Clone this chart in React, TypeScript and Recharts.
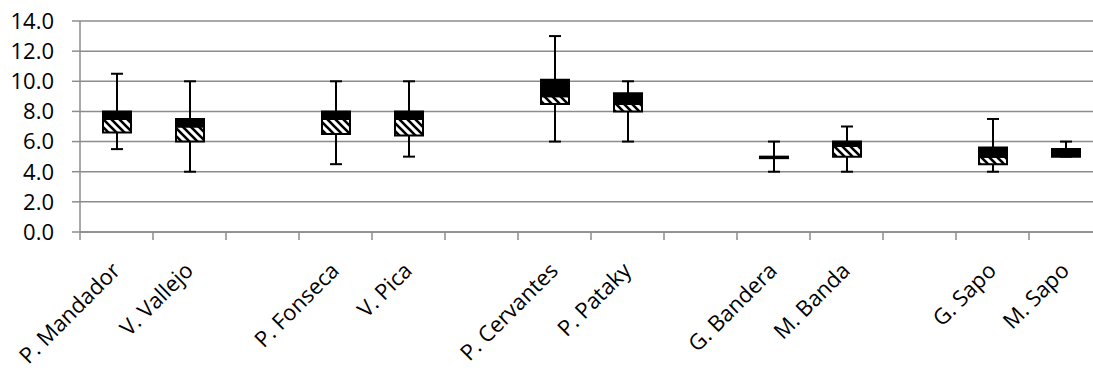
import React from "react";
import { BarChart, Bar, XAxis, YAxis, CartesianGrid } from "recharts";

// Box-plot statistics per site; empty names are spacer slots between groups.
const categories = [
  "P. Mandador", "V. Vallejo", "", "P. Fonseca", "V. Pica", "",
  "P. Cervantes", "P. Pataky", "", "G. Bandera", "M. Banda", "",
  "G. Sapo", "M. Sapo",
];
const minValues = [5.5, 4.0, null, 4.5, 5.0, null, 6.0, 6.0, null, 4.0, 4.0, null, 4.0, 5.0];
const q1Values = [6.6, 6.0, null, 6.5, 6.4, null, 8.5, 8.0, null, 4.9, 5.0, null, 4.5, 5.0];
const medianValues = [7.5, 7.0, null, 7.5, 7.5, null, 9.0, 8.5, null, 4.9, 5.7, null, 5.0, 5.0];
const q3Values = [8.0, 7.5, null, 8.0, 8.0, null, 10.1, 9.2, null, 5.0, 6.0, null, 5.6, 5.5];
const maxValues = [10.5, 10.0, null, 10.0, 10.0, null, 13.0, 10.0, null, 6.0, 7.0, null, 7.5, 6.0];
const yTicks = [0, 2, 4, 6, 8, 10, 12, 14];

const rows = categories.map((name, i) => {
  const mn = minValues[i];
  if (mn == null) return { name };
  const q1 = q1Values[i] as number;
  const med = medianValues[i] as number;
  const q3 = q3Values[i] as number;
  const mx = maxValues[i] as number;
  return {
    name,
    base: mn,
    lowWhisker: q1 - mn,
    lowBox: med - q1,
    highBox: q3 - med,
    highWhisker: mx - q3,
  };
});

const GRID = "#8c8c8c";
const FONT = "'Open Sans', sans-serif";

const hasValue = (p: any, key: string) =>
  p && p.payload && typeof p.payload[key] === "number" && p.x != null && p.y != null;

const LowWhisker = (p: any) => {
  if (!hasValue(p, "lowWhisker")) return <g />;
  const cx = p.x + p.width / 2;
  const bottom = p.y + p.height;
  return (
    <g>
      <line x1={cx} x2={cx} y1={p.y} y2={bottom} stroke="#000" strokeWidth={2} />
      <line x1={cx - 6} x2={cx + 6} y1={bottom} y2={bottom} stroke="#000" strokeWidth={2} />
    </g>
  );
};

const HighWhisker = (p: any) => {
  if (!hasValue(p, "highWhisker")) return <g />;
  const cx = p.x + p.width / 2;
  return (
    <g>
      <line x1={cx} x2={cx} y1={p.y} y2={p.y + p.height} stroke="#000" strokeWidth={2} />
      <line x1={cx - 6} x2={cx + 6} y1={p.y} y2={p.y} stroke="#000" strokeWidth={2} />
    </g>
  );
};

// Category label turned 45° up-right, with a tick mark on the left boundary of each band.
const CategoryTick = (p: any) => {
  const { x, y, payload } = p;
  const half =
    payload && typeof payload.offset === "number" && payload.offset > 0
      ? payload.offset
      : p.width / (2 * (p.visibleTicksCount || categories.length));
  const ax = x + 5;
  const ay = y + 40;
  return (
    <g>
      <line x1={x - half} x2={x - half} y1={y} y2={y + 8} stroke={GRID} strokeWidth={1.5} />
      <text
        x={ax}
        y={ay}
        textAnchor="end"
        fontSize={22}
        fontFamily={FONT}
        fill="#000"
        style={{
          transform: "rotate(-45deg)",
          transformBox: "view-box",
          transformOrigin: `${ax}px ${ay}px`,
        }}
      >
        {payload.value}
      </text>
    </g>
  );
};

export default function App() {
  return (
    <div
      style={{
        position: "absolute",
        left: 0,
        top: 0,
        width: 1093,
        height: 374,
        overflow: "hidden",
        background: "#fff",
      }}
    >
      <BarChart
        width={1110}
        height={374}
        data={rows}
        margin={{ top: 21, right: 8, bottom: 0, left: 0 }}
        barSize={28}
      >
        <defs>
          <pattern id="hatch" patternUnits="userSpaceOnUse" width={8} height={8}>
            <rect width={8} height={8} fill="#fff" />
            <path d="M-2,-2 L10,10 M-2,6 L2,10 M6,-2 L10,2" stroke="#000" strokeWidth={2.6} />
          </pattern>
        </defs>
        <CartesianGrid vertical={false} stroke={GRID} strokeWidth={1.5} />
        <XAxis
          dataKey="name"
          interval={0}
          height={142}
          tickLine={false}
          tickSize={0}
          tickMargin={0}
          axisLine={{ stroke: GRID, strokeWidth: 1.5 }}
          tick={<CategoryTick />}
        />
        <YAxis
          domain={[0, 14]}
          ticks={yTicks}
          interval={0}
          width={80}
          tickFormatter={(v: number) => v.toFixed(1)}
          axisLine={{ stroke: GRID, strokeWidth: 1.5 }}
          tickLine={{ stroke: GRID, strokeWidth: 1.5 }}
          tickSize={8}
          tickMargin={18}
          tick={{ fontSize: 22, fontFamily: FONT, fill: "#000" }}
        />
        <Bar dataKey="base" stackId="box" fill="none" isAnimationActive={false} />
        <Bar dataKey="lowWhisker" stackId="box" shape={LowWhisker} isAnimationActive={false} />
        <Bar
          dataKey="lowBox"
          stackId="box"
          fill="url(#hatch)"
          stroke="#000"
          strokeWidth={2}
          isAnimationActive={false}
        />
        <Bar
          dataKey="highBox"
          stackId="box"
          fill="#000"
          stroke="#000"
          strokeWidth={2}
          isAnimationActive={false}
        />
        <Bar dataKey="highWhisker" stackId="box" shape={HighWhisker} isAnimationActive={false} />
      </BarChart>
    </div>
  );
}
